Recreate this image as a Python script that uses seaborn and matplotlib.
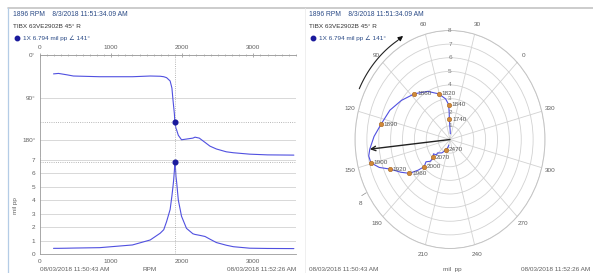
import numpy as np
import matplotlib
matplotlib.use('Agg')
import matplotlib.pyplot as plt
import seaborn as sns
from matplotlib.lines import Line2D
from matplotlib.ticker import FixedLocator, MultipleLocator

# ── data ──────────────────────────────────────────────
rpm = [190, 260, 380, 470, 840, 1300, 1550, 1690, 1740, 1780, 1830, 1855, 1870, 1880,
       1890, 1896, 1905, 1912, 1922, 1945, 1990, 2060, 2150, 2180, 2240, 2320, 2390,
       2480, 2620, 2720, 2950, 3200, 3570]
amp = [0.42, 0.42, 0.43, 0.44, 0.47, 0.67, 1.04, 1.54, 1.8, 2.4, 3.3, 4.3, 5.0, 5.5,
       6.2, 6.794, 6.4, 5.75, 5.3, 4.0, 2.8, 1.9, 1.5, 1.45, 1.39, 1.3, 1.1,
       0.85, 0.65, 0.54, 0.43, 0.41, 0.40]
phase = [40, 39, 42, 44.5, 46, 46, 44.5, 45, 46, 48, 55, 70, 95, 110,
         125, 141, 150, 155, 159, 170, 179.5, 178, 176, 174, 176, 185, 193,
         199, 205, 207, 210, 211.5, 212]

# polar (orbit) curve, in rpm order along the trace
pc_amp = [0.42, 0.45, 0.7, 1.0, 1.49, 2.0, 2.56, 3.0, 3.48, 4.0, 4.5, 5.0, 5.5, 5.91,
          6.4, 6.794, 6.95, 6.88, 6.3, 5.49, 4.8, 4.23, 3.5, 2.96, 2.6, 2.3, 1.92,
          1.75, 1.6, 1.45, 1.2, 0.84, 0.6, 0.42]
pc_phase = [40, 42, 44, 46, 47, 47, 47.5, 52, 60.8, 73, 86.8, 100, 112, 124,
            133, 141, 145, 149.4, 154, 158.3, 165, 171, 175, 177.5, 174, 179, 178,
            172, 180, 178, 190, 201, 208, 212]

mk_label = ['1740', '1840', '1820', '1860', '1890', '1900', '1920', '1960', '2000', '2070', '2470']
mk_amp = [1.49, 2.56, 3.48, 4.5, 5.91, 6.88, 5.49, 4.23, 2.96, 1.92, 0.84]
mk_phase = [47, 47.5, 60.8, 86.8, 124, 149.4, 158.3, 171, 177.5, 178, 201]

cur_rpm = 1896
cur_amp = 6.794
cur_phase = 141

x_ticks = [0, 1000, 2000, 3000]
phase_ticks = [0, 90, 180]
amp_ticks = [0, 1, 2, 3, 4, 5, 6, 7]
angle_labels = list(range(0, 360, 30))
ring_labels = list(range(1, 9))

head1 = '1896 RPM    8/3/2018 11:51:34.09 AM'
head2 = 'TIBX 63VE2902B 45° R'
head3 = '1X 6.794 mil pp ∠ 141°'
t_start = '08/03/2018 11:50:43 AM'
t_end = '08/03/2018 11:52:26 AM'

# ── style ─────────────────────────────────────────────
sns.set_theme(style='white')
plt.rcParams['font.family'] = ['Liberation Sans', 'DejaVu Sans']
LINE = '#5050e0'
NAVY = '#1a1a9c'
GRID = '#d2d2d2'
TICK = '#606060'
FS = 4.6

W, H = 593, 273
fig = plt.figure(figsize=(W / 100, H / 100), dpi=100)
fig.patch.set_facecolor('white')

def fx(px):
    return px / W

def fy(py):
    return (H - py) / H

# frame lines
fig.add_artist(Line2D([fx(8), 1], [fy(8), fy(8)], color='#c4c4c4', lw=1.2))
fig.add_artist(Line2D([fx(8), fx(8)], [0, fy(8)], color='#b4cce6', lw=0.9))
fig.add_artist(Line2D([fx(305), fx(305)], [0, fy(8)], color='#ececec', lw=0.6))

# ── left: bode plot ───────────────────────────────────
ax1 = fig.add_axes([fx(40), fy(157), fx(256), (157 - 55) / H])
ax2 = fig.add_axes([fx(40), fy(254), fx(256), (254 - 157) / H])

for ax in (ax1, ax2):
    ax.set_facecolor('white')
    ax.set_xlim(0, 3600)
    ax.xaxis.set_major_locator(FixedLocator(x_ticks))
    ax.xaxis.set_minor_locator(MultipleLocator(100))
    ax.tick_params(axis='both', which='major', direction='inout', length=3.5, width=0.5,
                   color='#888888', labelsize=FS, labelcolor=TICK, pad=1.5)
    ax.tick_params(axis='both', which='minor', direction='inout', length=2, width=0.4,
                   color='#888888')
    for s in ax.spines.values():
        s.set_color('#9a9a9a')
        s.set_linewidth(0.6)
    ax.spines['right'].set_visible(False)
    ax.grid(False)
    ax.yaxis.grid(True, which='major', color=GRID, lw=0.6)

sns.lineplot(x=rpm, y=phase, ax=ax1, color=LINE, lw=0.8, sort=False, estimator=None)
ax1.set_ylim(216, 0)
ax1.yaxis.set_major_locator(FixedLocator(phase_ticks))
ax1.yaxis.set_minor_locator(MultipleLocator(30))
ax1.set_yticklabels([f'{t}°' for t in phase_ticks])
ax1.xaxis.tick_top()
ax1.xaxis.set_label_position('top')
ax1.spines['bottom'].set_visible(False)
ax1.set_xlabel('')
ax1.set_ylabel('')
ax1.axvline(cur_rpm, color='#a0a0a0', ls=':', lw=0.6)
ax1.axhline(cur_phase, color='#a0a0a0', ls=':', lw=0.6)
ax1.plot([cur_rpm], [cur_phase], 'o', color=NAVY, ms=3.4, zorder=5)

sns.lineplot(x=rpm, y=amp, ax=ax2, color=LINE, lw=0.8, sort=False, estimator=None)
ax2.set_ylim(0, 7.19)
ax2.yaxis.set_major_locator(FixedLocator(amp_ticks))
ax2.yaxis.set_minor_locator(MultipleLocator(0.5))
ax2.spines['top'].set_visible(False)
ax2.set_xlabel('')
ax2.set_ylabel('mil pp', fontsize=FS, color=TICK, labelpad=10)
ax2.axvline(cur_rpm, color='#a0a0a0', ls=':', lw=0.6)
ax2.axhline(cur_amp, color='#a0a0a0', ls=':', lw=0.6)
ax2.plot([cur_rpm], [cur_amp], 'o', color=NAVY, ms=3.4, zorder=5)

# ── right: polar plot ─────────────────────────────────
axp = fig.add_axes([fx(355), fy(248.5), fx(190), (248.5 - 30.5) / H], projection='polar')
axp.set_aspect('auto')
axp.set_facecolor('white')
axp.set_theta_offset(np.pi / 4)
axp.set_theta_direction(1)
axp.set_rlim(0, 8)
axp.set_thetagrids(angle_labels, labels=[''] * len(angle_labels))
axp.set_rgrids(ring_labels, labels=[''] * len(ring_labels))
axp.grid(True, color=GRID, lw=0.6)
axp.spines['polar'].set_color('#c4c4c4')
axp.spines['polar'].set_linewidth(0.7)

for a in angle_labels:
    axp.text(np.deg2rad(a), 8.75, str(a), fontsize=FS, color=TICK,
             ha='center', va='center', clip_on=False)
for r in ring_labels:
    axp.text(np.deg2rad(45), r, str(r), fontsize=FS, color='#777777',
             ha='center', va='center')
axp.text(np.deg2rad(167), 8.85, '8', fontsize=FS, color=TICK, ha='center', va='center',
         clip_on=False)
axp.plot(np.deg2rad([164, 164]), [8.05, 8.5], color='#888888', lw=0.5, clip_on=False)

# rotation direction arrow
arc_t = np.deg2rad(np.linspace(109, 76, 30))
axp.plot(arc_t, np.full_like(arc_t, 8.5), color='#222222', lw=0.8, clip_on=False)
axp.annotate('', xy=(np.deg2rad(71), 8.6), xytext=(np.deg2rad(77), 8.5),
             arrowprops=dict(arrowstyle='-|>', color='#111111', lw=0.8,
                             mutation_scale=7), annotation_clip=False)

axp.plot(np.deg2rad(pc_phase), pc_amp, color=LINE, lw=0.8)
axp.annotate('', xy=(np.deg2rad(cur_phase), cur_amp), xytext=(0, 0),
             arrowprops=dict(arrowstyle='->', color='#222222', lw=1.0,
                             mutation_scale=8, shrinkA=0, shrinkB=0))
axp.plot(np.deg2rad(mk_phase), mk_amp, 'o', ls='none', color='#d08a3a',
         mec='#a86420', mew=0.4, ms=3.2, zorder=5)
for lab, r, p in zip(mk_label, mk_amp, mk_phase):
    axp.annotate(lab, xy=(np.deg2rad(p), r), xytext=(2, 0), textcoords='offset points',
                 fontsize=FS, color='#555555', va='center', ha='left')

# ── header and footer texts ───────────────────────────
for x0 in (13, 309):
    fig.text(fx(x0), fy(15), head1, fontsize=4.9, color='#2a4a86', va='center')
    fig.text(fx(x0), fy(27), head2, fontsize=4.6, color='#333333', va='center')
    fig.text(fx(x0 + 10), fy(38), head3, fontsize=4.6, color='#2a4a86', va='center')
    fig.add_artist(Line2D([fx(x0 + 4)], [fy(38)], marker='o', color=NAVY, ms=3.2))

fig.text(fx(40), fy(267), t_start, fontsize=FS, color=TICK, va='top')
fig.text(fx(150), fy(267), 'RPM', fontsize=FS, color=TICK, va='top', ha='center')
fig.text(fx(296), fy(267), t_end, fontsize=FS, color=TICK, va='top', ha='right')
fig.text(fx(309), fy(267), t_start, fontsize=FS, color=TICK, va='top')
fig.text(fx(452), fy(267), 'mil  pp', fontsize=FS, color=TICK, va='top', ha='center')
fig.text(fx(590), fy(267), t_end, fontsize=FS, color=TICK, va='top', ha='right')

fig.savefig('out.png', dpi=100, facecolor='white')
